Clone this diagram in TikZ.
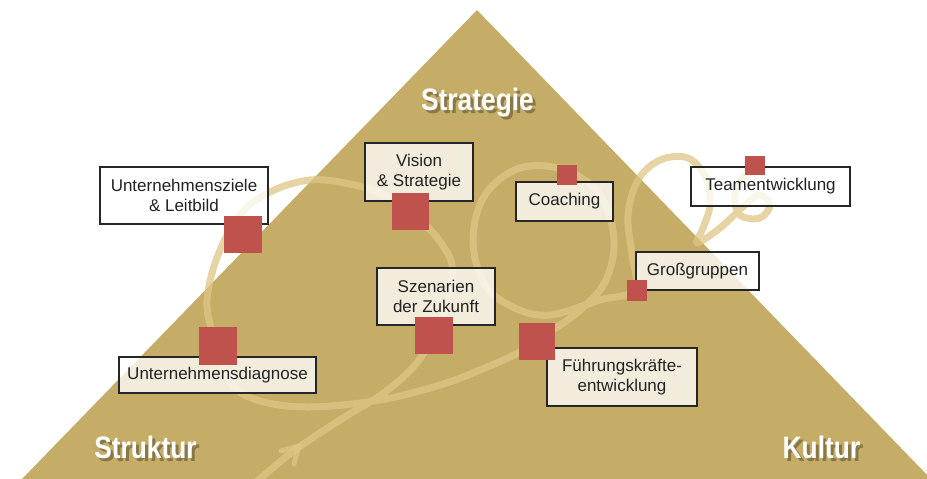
\documentclass[tikz,border=0pt]{standalone}
\usepackage{fontspec}
\setmainfont{Liberation Sans}
\newfontfamily\labfont{Liberation Sans}[FakeStretch=0.85]
\usetikzlibrary{calc}
\definecolor{gold}{HTML}{C5AD67}
\definecolor{loopc}{HTML}{DEC686}
\definecolor{sq}{HTML}{BF524C}
\definecolor{txt}{HTML}{222222}
\begin{document}
\begin{tikzpicture}[x=1pt,y=-1pt,
  box/.style={draw=black!85, line width=1.3pt, fill=white, fill opacity=0.78, text opacity=1,
    inner sep=0pt, outer sep=0pt, align=center, text=txt,
    font=\fontsize{17}{19.5}\selectfont},
  redsq/.style={fill=sq, draw=none, inner sep=0pt, outer sep=0pt},
  band/.style={draw=loopc, line width=7pt, line cap=round, line join=round, opacity=0.75},
  biglab/.style={font=\labfont\bfseries\fontsize{31}{31}\selectfont, text=white, anchor=base, inner sep=0pt},
  shadlab/.style={biglab, text=black, text opacity=0.3}]
\useasboundingbox (0,0) rectangle (927,479);
\begin{scope}
\clip (0,0) rectangle (927,479);
% pyramid
\fill[gold] (477,10) -- (22,479) -- (931,479) -- cycle;
% loop band
\draw[band] plot[smooth, tension=0.6] coordinates {
  (256,482) (295,450) (340,420) (385,392) (415,365) (434,335)
  (448,300) (452,265) (435,235) (410,212) (385,195) (350,184) (310,180)
  (270,192) (240,215) (218,255) (207,300) (213,335) (220,355)
  (232,385) (260,401) (310,407) (380,400) (440,385) (480,370) (520,352)
  (545,335) (578,312) (605,282) (614,240) (600,195) (565,170) (520,168)
  (485,195) (473,240) (485,285) (515,308) (550,315) (600,300) (635,290)
  (632,255) (628,215) (638,180) (660,160) (688,158) (706,178) (710,205)
  (703,228) (697,243) (720,228) (745,205) (760,195) (770,205) (760,218)
  (740,215) (735,195) (745,175) (755,165)};
% arrow chevron on the band
\coordinate (arrtip) at (299,446);
\coordinate (arra) at (281,451);
\coordinate (arrb) at (294,464);
\draw[band, line width=5pt] (arra) -- (arrtip) -- (arrb);
\end{scope}
% labels with drop shadow
\node[shadlab] (strat-sh) at (480.5,113) {Strategie};
\node[shadlab] (strukt-sh) at (148.5,461) {Struktur};
\node[shadlab] (kult-sh) at (824.5,461) {Kultur};
\node[biglab] (strat) at (477.5,110) {Strategie};
\node[biglab] (strukt) at (145.5,458) {Struktur};
\node[biglab] (kult) at (821.5,458) {Kultur};
% boxes
\node[box, minimum width=168pt, minimum height=57pt] (zl) at (184,195.5) {Unternehmensziele\\\& Leitbild};
\node[box, minimum width=197pt, minimum height=36pt] (ud) at (217.5,375) {Unternehmensdiagnose};
\node[box, minimum width=108pt, minimum height=58pt] (vs) at (419,172) {Vision\\\& Strategie};
\node[box, minimum width=97pt, minimum height=39pt] (co) at (564.5,201.5) {Coaching};
\node[box, minimum width=118pt, minimum height=57pt] (sz) at (436,296.5) {Szenarien\\der Zukunft};
\node[box, minimum width=150pt, minimum height=58pt] (fk) at (622,377) {Führungskräfte-\\entwicklung};
\node[box, minimum width=123pt, minimum height=38pt] (gg) at (697.5,271) {Großgruppen};
\node[box, minimum width=159pt, minimum height=39pt] (te) at (770.5,186.5) {Teamentwicklung};
% red squares
\node[redsq, minimum width=38pt, minimum height=37pt] (zlq) at (243,234.5) {};
\node[redsq, minimum width=38pt, minimum height=38pt] (udq) at (218,346) {};
\node[redsq, minimum width=37pt, minimum height=37pt] (vsq) at (410.5,211.5) {};
\node[redsq, minimum width=20pt, minimum height=20pt] (coq) at (567,175) {};
\node[redsq, minimum width=38pt, minimum height=37pt] (szq) at (434,335.5) {};
\node[redsq, minimum width=36pt, minimum height=37pt] (fkq) at (537,341.5) {};
\node[redsq, minimum width=20pt, minimum height=21pt] (ggq) at (637,290) {};
\node[redsq, minimum width=20pt, minimum height=19pt] (teq) at (755,165.5) {};
\end{tikzpicture}
\end{document}
